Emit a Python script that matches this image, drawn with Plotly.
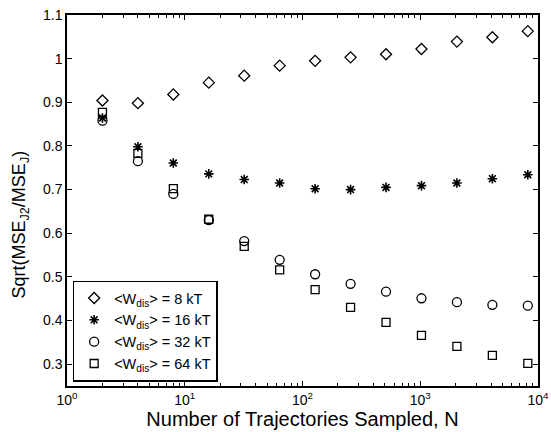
import plotly.graph_objects as go

N = [2, 4, 8, 16, 32, 64, 128, 256, 512, 1024, 2048, 4096, 8192]
w8 = [0.904, 0.898, 0.918, 0.945, 0.961, 0.984, 0.995, 1.003, 1.010, 1.022, 1.039, 1.049, 1.063]
w16 = [0.864, 0.798, 0.761, 0.736, 0.723, 0.715, 0.702, 0.700, 0.705, 0.709, 0.715, 0.725, 0.734]
w32 = [0.858, 0.765, 0.690, 0.630, 0.582, 0.539, 0.506, 0.484, 0.466, 0.451, 0.442, 0.436, 0.434]
w64 = [0.877, 0.783, 0.702, 0.632, 0.570, 0.516, 0.471, 0.430, 0.396, 0.366, 0.341, 0.320, 0.302]

names = ["&lt;W<sub>dis</sub>&gt; = 8 kT", "&lt;W<sub>dis</sub>&gt; = 16 kT",
         "&lt;W<sub>dis</sub>&gt; = 32 kT", "&lt;W<sub>dis</sub>&gt; = 64 kT"]
xtickvals = [1, 10, 100, 1000, 10000]
xticktext = ["10<sup>0</sup>", "10<sup>1</sup>", "10<sup>2</sup>", "10<sup>3</sup>", "10<sup>4</sup>"]
xminor = [m * d for d in [1, 10, 100, 1000] for m in range(2, 10)]
ytickvals = [0.3, 0.4, 0.5, 0.6, 0.7, 0.8, 0.9, 1.0, 1.1]
yticktext = ["0.3", "0.4", "0.5", "0.6", "0.7", "0.8", "0.9", "1", "1.1"]

styles = [
    dict(symbol="diamond-open", size=8.5, line=dict(width=1.3, color="black")),
    dict(symbol="asterisk-open", size=8, line=dict(width=1.6, color="black")),
    dict(symbol="circle-open", size=9, line=dict(width=1.3, color="black")),
    dict(symbol="square-open", size=8, line=dict(width=1.3, color="black")),
]

fig = go.Figure()
for name, ys, st in zip(names, [w8, w16, w32, w64], styles):
    fig.add_trace(go.Scatter(x=N, y=ys, mode="markers", name=name,
                             marker=dict(color="black", **st)))

font = "Liberation Sans, Arial, Helvetica, sans-serif"
fig.update_layout(
    width=551, height=432,
    margin=dict(l=67, r=13, t=15, b=46),
    paper_bgcolor="white", plot_bgcolor="white",
    font=dict(family=font, color="black", size=14),
    legend=dict(x=0.012, y=0.012, xanchor="left", yanchor="bottom",
                bordercolor="black", borderwidth=1.5, bgcolor="white",
                font=dict(size=14.5), tracegroupgap=0, itemsizing="trace"),
    xaxis=dict(type="log", range=[0, 4], tickvals=xtickvals, ticktext=xticktext,
               ticks="inside", ticklen=5, tickcolor="black", showline=True,
               linecolor="black", linewidth=1.5, mirror="allticks", showgrid=False,
               zeroline=False, tickfont=dict(size=14),
               minor=dict(tickvals=xminor, ticks="inside", ticklen=3, tickcolor="black", showgrid=False),
               title=dict(text="Number of Trajectories Sampled, N", font=dict(size=20), standoff=0),
               automargin=False),
    yaxis=dict(range=[0.25, 1.1], tickvals=ytickvals, ticktext=yticktext,
               ticks="inside", ticklen=5, tickcolor="black", showline=True,
               linecolor="black", linewidth=1.5, mirror="allticks", showgrid=False,
               zeroline=False, tickfont=dict(size=14),
               automargin=False),
    annotations=[dict(text="Sqrt(MSE<sub>J2</sub>/MSE<sub>J</sub>)", textangle=-90,
                      xref="paper", yref="paper", x=-0.098, y=0.435,
                      xanchor="center", yanchor="middle", showarrow=False,
                      font=dict(size=18))],
)
fig.write_html("out.html", config={"displayModeBar": False},
               post_script="document.body.style.margin='0';document.body.style.overflow='hidden';")
